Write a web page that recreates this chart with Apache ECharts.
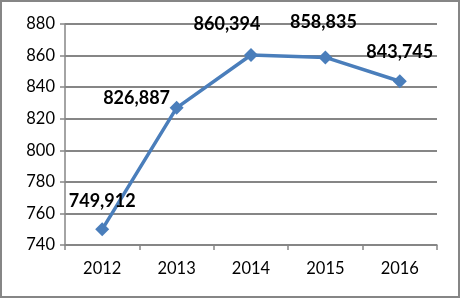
<!DOCTYPE html>
<html>
<head>
<meta charset="utf-8">
<script src="https://cdn.jsdelivr.net/npm/echarts@6/dist/echarts.min.js"></script>
<style>
  html, body { margin: 0; padding: 0; background: #fff; }
  #main { width: 460px; height: 298px; box-sizing: border-box; border: 2px solid #868686; }
</style>
</head>
<body>
<div id="main"></div>
<script>
const years = ['2012', '2013', '2014', '2015', '2016']
const values = [749.912, 826.887, 860.394, 858.835, 843.745]
const valueLabels = ['749,912', '826,887', '860,394', '858,835', '843,745']
// label offsets relative to the point, [dx, dy]
const labelOffsets = [[0, -28], [-40, -10], [-24, -31], [-2, -35], [0, -29]]

const chart = echarts.init(document.getElementById('main'))
chart.setOption({
  animation: false,
  grid: { left: 63, right: 21, top: 22, bottom: 51 },
  xAxis: {
    type: 'category',
    data: years,
    boundaryGap: true,
    axisLine: { lineStyle: { color: '#868686', width: 1.5 } },
    axisTick: { show: true, length: 5, lineStyle: { color: '#868686', width: 1.5 } },
    axisLabel: { color: '#000', fontFamily: 'Lato', fontSize: 16.5, margin: 15 }
  },
  yAxis: {
    type: 'value',
    min: 740,
    max: 880,
    interval: 20,
    axisLine: { show: true, lineStyle: { color: '#868686', width: 1.5 } },
    axisTick: { show: true, length: 5, lineStyle: { color: '#868686', width: 1.5 } },
    splitLine: { lineStyle: { color: '#868686', width: 2 } },
    axisLabel: { color: '#000', fontFamily: 'Lato', fontSize: 16.5, margin: 10 }
  },
  series: [{
    type: 'line',
    data: values.map((v, i) => ({
      value: v,
      label: { offset: labelOffsets[i] }
    })),
    symbol: 'diamond',
    symbolSize: 14,
    lineStyle: { color: '#4a7ebb', width: 3.5 },
    itemStyle: { color: '#4a7ebb' },
    label: {
      show: true,
      position: 'inside',
      color: '#000',
      fontWeight: 'bold',
      fontFamily: 'Lato',
      fontSize: 18,
      formatter: p => valueLabels[p.dataIndex]
    }
  }]
})
</script>
</body>
</html>
